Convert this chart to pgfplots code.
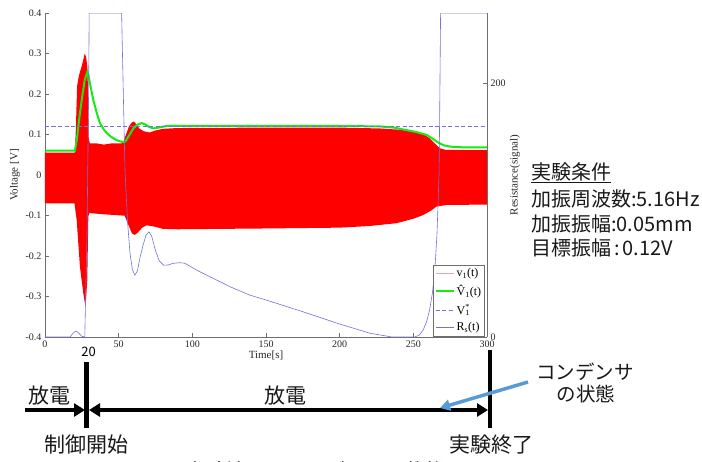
\documentclass[border=0pt]{standalone}
\usepackage{fontspec}
\setmainfont{Liberation Serif}
\newfontfamily\jp{Noto Sans CJK JP}
\usepackage{pgfplots}
\pgfplotsset{compat=1.18}
\usetikzlibrary{arrows.meta}
\definecolor{rline}{RGB}{115,115,215}
\definecolor{vgreen}{RGB}{20,235,20}
\definecolor{legpink}{RGB}{225,170,170}
\definecolor{axgray}{RGB}{110,110,110}
\definecolor{callout}{RGB}{91,155,213}

\begin{document}
\begin{tikzpicture}
\useasboundingbox (0,0) rectangle (702pt,-461pt);
\begin{axis}[
 at={(45pt,-337pt)}, anchor=south west,
 scale only axis, width=442pt, height=324pt,
 xmin=0,xmax=300,ymin=-0.4,ymax=0.4,
 axis x line*=bottom, axis y line*=left,
 axis line style={axgray, line width=0.6pt},
 xtick={0,50,100,150,200,250,300},
 ytick={-0.4,-0.3,-0.2,-0.1,0,0.1,0.2,0.3,0.4},
 tick align=inside, major tick length=4pt,
 tick style={axgray, line width=0.5pt},
 /pgf/number format/assume math mode=true,
 /pgf/number format/fixed, /pgf/number format/precision=1,
 tick label style={font=\fontsize{10}{12}\selectfont, text=black!85},
 xlabel={Time[s]}, ylabel={Voltage [V]},
 label style={font=\fontsize{11}{12}\selectfont, text=black!85},
 xlabel style={at={(axis description cs:0.5,0)}, anchor=north, yshift=-14pt, inner sep=0pt},
 ylabel style={at={(axis description cs:0,0.5)}, anchor=center, yshift=30pt},
]
% v1(t): filled band between upper and lower envelope
\addplot[draw=none, fill=red] coordinates {
(0,0.055) (20.3,0.055) (21,0.12) (21.8,0.22) (23,0.245) (25,0.27) (27,0.30) (28,0.29) (28.7,0.267) (29.3,0.2) (29.7,0.09) (30.5,0.078)
(35,0.078) (40,0.075) (45,0.078) (52,0.078) (53.5,0.085) (55,0.10) (57,0.12) (59,0.13) (60.5,0.132) (62,0.125) (64,0.115) (67,0.108) (71,0.105) (75,0.11) (80,0.114) (90,0.116) (150,0.117) (200,0.117) (227,0.115) (240,0.112) (252,0.107) (258,0.098) (261,0.091) (264,0.08) (268,0.066) (272,0.062) (300,0.062)
(300,-0.073) (272.5,-0.074) (265.7,-0.078) (262,-0.088) (256.6,-0.099) (250,-0.108) (238.6,-0.119) (220,-0.126) (200,-0.130) (150,-0.132) (90,-0.134) (80,-0.133) (75,-0.128) (69,-0.124) (66,-0.130) (63,-0.142) (61,-0.148) (59,-0.144) (56,-0.118) (54,-0.10) (52,-0.10) (40,-0.097) (30,-0.094)
(29.4,-0.103) (28.7,-0.26) (27.8,-0.31) (27.1,-0.317) (26,-0.292) (23.7,-0.226) (21.5,-0.111) (20.3,-0.078) (20,-0.07) (0,-0.07)
} -- cycle;
% estimated amplitude
\addplot[vgreen, line width=2pt] coordinates {
(0,0.06) (20.3,0.06) (21.5,0.085) (22.6,0.119) (24,0.16) (25.6,0.202) (27,0.235) (28.7,0.255) (29.6,0.245) (30.5,0.226) (32.8,0.185) (35,0.155) (37.3,0.128) (40,0.112) (42,0.103) (45,0.094) (48.6,0.086) (51,0.083) (53.6,0.081) (55,0.085) (57,0.097) (60,0.115) (62.5,0.124) (65.6,0.128) (68,0.125) (70.5,0.119) (73.5,0.115) (77,0.117) (82.6,0.121) (90,0.121) (150,0.121) (200,0.121) (227,0.120) (237,0.117) (245,0.111) (252,0.106) (259,0.099) (263,0.090) (266,0.082) (268,0.078) (271,0.073) (275,0.070) (285,0.068) (300,0.068)
};
% target amplitude
\addplot[rline, line width=0.6pt, dash pattern=on 4pt off 2.5pt] coordinates {(0,0.12) (300,0.12)};
\end{axis}
\begin{axis}[
 at={(45pt,-337pt)}, anchor=south west,
 scale only axis, width=442pt, height=324pt,
 xmin=0,xmax=300,ymin=0,ymax=255,
 axis x line=none, axis y line*=right,
 axis line style={axgray, line width=0.6pt},
 ytick={0,200}, tick align=inside, major tick length=4pt,
 tick style={axgray, line width=0.5pt},
 /pgf/number format/assume math mode=true,
 tick label style={font=\fontsize{10}{12}\selectfont, text=black!85},
 ylabel={Resistance(signal)},
 label style={font=\fontsize{11}{12}\selectfont, text=black!85},
 ylabel style={at={(axis description cs:1,0.5)}, anchor=center, yshift=-28pt},
 legend style={at={(rel axis cs:0.995,0.003)}, anchor=south east, draw=axgray, fill=white,
   font=\fontsize{12}{13}\selectfont, inner xsep=1.5pt, inner ysep=1.5pt, row sep=3pt},
 legend cell align=left,
 legend image code/.code={\draw[#1] (0pt,0pt) -- (18pt,0pt);},
]
\addlegendimage{legpink, line width=1pt}
\addlegendentry{v\textsubscript{1}(t)}
\addlegendimage{vgreen, line width=2pt}
\addlegendentry{\^{V}\textsubscript{1}(t)}
\addlegendimage{rline, line width=0.6pt, dash pattern=on 4pt off 2.5pt}
\addlegendentry{V\rlap{\textsuperscript{*}}\textsubscript{1}}
\addplot[rline, line width=0.6pt] coordinates {
(0,0) (17,0) (19,3) (21,4.8) (23,3) (25,0.5) (27,0) (28.5,80) (29.5,180) (30,255) (52,255) (53,200) (54.3,131) (56.1,89.5) (57.7,66) (59.3,53) (61,48.7) (62.7,52) (64.4,62) (66.5,72) (68.5,80) (70.6,82.8) (72.5,79) (75,68) (77.5,60) (80.5,56.5) (83.7,56.7) (87,58) (91.6,58.5) (95,58) (103,52.6) (110,48.5) (118.7,43.6) (125.5,39.6) (139,33) (150.4,29) (175,19.9) (200,10.2) (220.5,3) (235.5,0) (251,0) (254,1.5) (256.7,5.6) (259,12) (261,21) (263,35) (264.6,52.6) (266,80) (266.8,105) (267.5,131) (268,190) (268.5,255) (300,255)
};
\addlegendentry{R\textsubscript{s}(t)}
\end{axis}
\begin{scope}[x=1pt,y=-1pt, jpn/.style={font=\jp\fontsize{21}{24}\selectfont, inner sep=0pt, text=black!90}]
\node[font=\jp\fontsize{13}{13}\selectfont, inner sep=0pt] at (88.5,352) {20};
\draw[line width=4.5pt] (86.5,362) -- (86.5,428);
\draw[line width=4.5pt] (490,350) -- (490,428);
\draw[line width=4pt, -{Triangle[length=11pt,width=13pt]}] (25,410) -- (85,410);
\draw[line width=4pt, {Triangle[length=11pt,width=13pt]}-{Triangle[length=11pt,width=13pt]}] (89,410) -- (488,410);
\node[jpn] at (49,396) {放電};
\node[jpn] at (285,396) {放電};
\node[jpn] at (86.5,445) {制御開始};
\node[jpn] at (491,445) {実験終了};
\node[jpn, font=\jp\fontsize{19.5}{22}\selectfont] at (585,372) {コンデンサ};
\node[jpn, font=\jp\fontsize{19.5}{22}\selectfont] at (586,394) {の状態};
\draw[callout, line width=3.5pt, -{Triangle[length=10pt,width=11pt]}] (528,382) -- (440,408);
\node[jpn, font=\jp\fontsize{20}{24}\selectfont, anchor=base west] at (531,179) {\underline{実験条件}};
\node[jpn, font=\jp\fontsize{20}{24}\selectfont, anchor=base west] at (531,206) {加振周波数:5.16Hz};
\node[jpn, font=\jp\fontsize{20}{24}\selectfont, anchor=base west] at (531,231) {加振振幅:0.05mm};
\node[jpn, font=\jp\fontsize{20}{24}\selectfont, anchor=base west] at (531,255) {目標振幅\hspace{3pt}:\hspace{3pt}0.12V};
\node[jpn, font=\jp\fontsize{20}{24}\selectfont, anchor=north] at (315,461) {実験結果とコンデンサの状態};
\end{scope}
\end{tikzpicture}
\end{document}
